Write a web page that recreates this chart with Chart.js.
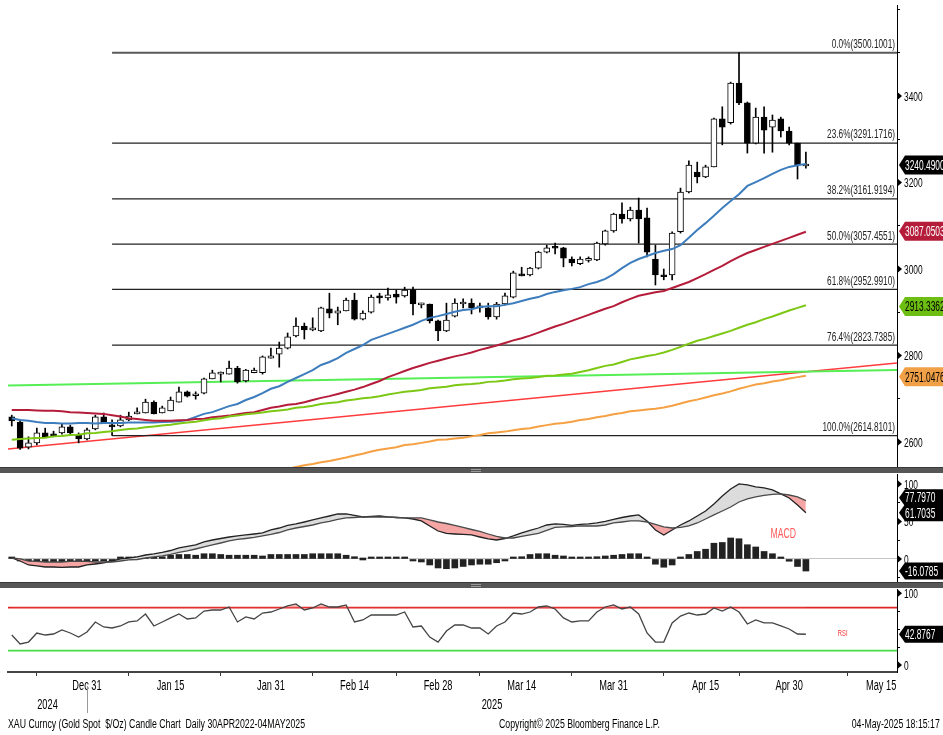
<!DOCTYPE html>
<html>
<head>
<meta charset="utf-8">
<script src="https://cdn.jsdelivr.net/npm/chart.js@4.4.1/dist/chart.umd.min.js"></script>
<style>
body{margin:0;background:#fff;width:943px;height:735px;overflow:hidden;position:relative;font-family:'Liberation Sans',Arial,sans-serif}
canvas{position:absolute;left:0}
.barra{position:absolute;left:0;width:943px;height:6px;background:#565656;border-top:1px solid #3a3a3a;box-sizing:border-box}
.barra i{position:absolute;left:471px;width:10px;height:1px;background:#9a9a9a}
.pie{position:absolute;top:717px;font-size:12.5px;color:#000;white-space:nowrap;transform:scaleX(0.7)}
</style>
</head>
<body>
<canvas id="plot1" width="943" height="468" style="top:0"></canvas>
<div class="barra" style="top:467px"><i style="top:1px"></i><i style="top:3px"></i></div>
<canvas id="plot2" width="943" height="110" style="top:473px"></canvas>
<div class="barra" style="top:582px"><i style="top:1px"></i><i style="top:3px"></i></div>
<canvas id="plot3" width="943" height="147" style="top:588px"></canvas>
<div class="pie" style="left:8px;transform-origin:left center">XAU Curncy (Gold Spot&nbsp; $/Oz) Candle Chart&nbsp; Daily 30APR2022-04MAY2025</div>
<div class="pie" style="left:499px;transform-origin:left center">Copyright© 2025 Bloomberg Finance L.P.</div>
<div class="pie" style="right:3px;transform-origin:right center">04-May-2025 18:15:17</div>
<script>
//Dias de negociacion (incluye los dias futuros del eje)
let fechas = ['Dec 17','Dec 18','Dec 19','Dec 20','Dec 23','Dec 24','Dec 26','Dec 27','Dec 30','Dec 31',
  'Jan 2','Jan 3','Jan 6','Jan 7','Jan 8','Jan 9','Jan 10','Jan 13','Jan 14','Jan 15','Jan 16','Jan 17','Jan 20','Jan 21','Jan 22','Jan 23','Jan 24','Jan 27','Jan 28','Jan 29','Jan 30','Jan 31',
  'Feb 3','Feb 4','Feb 5','Feb 6','Feb 7','Feb 10','Feb 11','Feb 12','Feb 13','Feb 14','Feb 17','Feb 18','Feb 19','Feb 20','Feb 21','Feb 24','Feb 25','Feb 26','Feb 27','Feb 28',
  'Mar 3','Mar 4','Mar 5','Mar 6','Mar 7','Mar 10','Mar 11','Mar 12','Mar 13','Mar 14','Mar 17','Mar 18','Mar 19','Mar 20','Mar 21','Mar 24','Mar 25','Mar 26','Mar 27','Mar 28','Mar 31',
  'Apr 1','Apr 2','Apr 3','Apr 4','Apr 7','Apr 8','Apr 9','Apr 10','Apr 11','Apr 14','Apr 15','Apr 16','Apr 17','Apr 21','Apr 22','Apr 23','Apr 24','Apr 25','Apr 28','Apr 29','Apr 30',
  'May 1','May 2','May 5','May 6','May 7','May 8','May 9','May 12','May 13','May 14','May 15','May 16','May 19'];

//Velas diarias
let apertura = [2658,2646,2588,2598,2621,2619,2621,2635,2616,2607,
  2630,2658,2639,2637,2651,2665,2667,2692,2667,2672,2692,2716,2707,2713,2746,2757,2757,2771,2741,2760,2760,2794,
  2803,2817,2845,2868,2859,2857,2908,2898,2903,2928,2884,2900,2938,2933,2942,2938,2951,2917,2919,2880,
  2857,2891,2919,2921,2910,2910,2889,2919,2935,2986,2986,3002,3039,3049,3049,3023,3012,3020,3021,3058,3088,
  3127,3116,3136,3118,3023,2986,2986,3086,3178,3224,3213,3236,3347,3338,3430,3384,3291,3351,3328,3347,3319,
  3291,3238];
let maximo = [2662,2651,2612,2632,2632,2625,2642,2639,2621,2632,
  2662,2667,2651,2662,2669,2679,2699,2695,2683,2704,2727,2718,2716,2748,2766,2762,2787,2775,2768,2771,2799,2817,
  2831,2852,2887,2875,2887,2912,2944,2912,2933,2944,2903,2940,2944,2956,2951,2958,2958,2921,2919,2882,
  2921,2931,2931,2931,2921,2921,2923,2944,2995,3004,3004,3041,3055,3060,3050,3028,3028,3028,3062,3090,3129,
  3153,3143,3164,3141,3055,3000,3086,3187,3250,3247,3240,3349,3375,3432,3500.1,3386,3372,3375,3356,3351,3328,
  3291,3270];
let minimo = [2637,2583,2584,2593,2610,2612,2618,2618,2598,2605,
  2628,2644,2615,2635,2649,2665,2667,2665,2667,2672,2692,2704,2699,2711,2746,2739,2757,2736,2739,2760,2757,2794,
  2773,2815,2843,2838,2857,2855,2887,2871,2903,2882,2882,2898,2921,2928,2921,2935,2894,2910,2875,2834,
  2855,2889,2910,2896,2900,2884,2884,2917,2933,2984,2984,3000,3037,3035,3005,3007,3010,3016,3019,3055,3085,
  3106,3111,3060,3028,2963,2975,2975,3083,3176,3199,3211,3236,3287,3335,3380,3268,3289,3268,3270,3305,3287,
  3208,3233];
let cierre = [2649,2586,2598,2621,2612,2614,2635,2621,2607,2628,
  2658,2644,2635,2651,2660,2668,2692,2665,2679,2697,2716,2706,2709,2746,2760,2760,2771,2739,2766,2766,2797,2799,
  2817,2843,2868,2859,2864,2910,2898,2903,2928,2884,2898,2935,2933,2940,2935,2951,2919,2919,2880,2857,
  2882,2921,2921,2910,2912,2889,2919,2938,2991,2984,3002,3039,3049,3048,3025,3014,3023,3021,3060,3088,3127,
  3116,3136,3116,3039,2986,2982,3083,3178,3240,3213,3236,3347,3328,3430,3384,3291,3351,3321,3344,3319,3291,
  3240,3240.49];

//Medias moviles
let mediaAzul = [2655,2651,2649,2646,2644,2644,2643,2643,2644,2644,
  2643,2644,2644,2644,2645,2645,2645,2645,2646,2647,2648,2651,2658,2665,2669,2676,2683,2688,2697,2704,2713,2723,
  2729,2739,2748,2757,2766,2778,2785,2794,2806,2815,2824,2836,2843,2850,2857,2864,2871,2880,2887,2891,
  2896,2901,2905,2907,2912,2914,2914,2917,2921,2926,2931,2935,2942,2947,2951,2954,2958,2965,2970,2977,2988,
  3002,3014,3023,3030,3037,3042,3046,3055,3072,3090,3106,3123,3141,3157,3173,3192,3201,3210,3220,3229,3236,
  3240,3243];
let mediaRoja = [2674,2674,2674,2673,2672,2672,2671,2669,2668,2667,
  2666,2665,2662,2659,2655,2653,2651,2649,2649,2649,2650,2651,2653,2654,2657,2659,2661,2664,2667,2669,2674,2679,
  2682,2686,2688,2692,2697,2702,2706,2711,2716,2721,2727,2734,2741,2750,2757,2764,2771,2777,2783,2788,
  2793,2798,2802,2807,2813,2818,2823,2829,2835,2840,2846,2853,2860,2867,2873,2880,2887,2894,2901,2908,2914,
  2923,2931,2938,2942,2946,2949,2956,2963,2970,2979,2988,2998,3007,3018,3028,3037,3044,3051,3058,3065,3072,
  3079,3086];
let mediaVerde = [2605,2607,2608,2609,2610,2613,2614,2616,2617,2620,
  2621,2623,2625,2628,2630,2631,2634,2636,2638,2640,2643,2645,2647,2650,2653,2655,2659,2661,2664,2666,2668,2671,
  2673,2675,2679,2681,2684,2688,2690,2692,2696,2698,2701,2703,2706,2710,2713,2716,2718,2720,2724,2726,
  2728,2731,2733,2734,2736,2739,2740,2742,2745,2747,2748,2750,2753,2754,2756,2758,2762,2766,2771,2776,2779,
  2785,2791,2795,2799,2802,2807,2813,2820,2827,2834,2839,2845,2851,2857,2864,2871,2877,2884,2890,2897,2904,
  2910,2916];
let mediaNaranja = [null,null,null,null,null,null,null,null,null,null,
  null,null,null,null,null,null,null,null,null,null,null,null,null,null,null,null,null,null,null,null,null,null,
  2533,2538,2542,2546,2549,2553,2556,2560,2564,2569,2573,2578,2582,2585,2588,2593,2595,2598,2601,2605,
  2606,2608,2610,2613,2616,2620,2622,2624,2627,2630,2632,2636,2639,2642,2644,2647,2651,2653,2657,2660,2664,
  2667,2671,2673,2675,2677,2680,2684,2689,2694,2698,2703,2708,2712,2717,2723,2728,2733,2736,2740,2743,2747,
  2750,2753];

//Lineas de tendencia (valor en el borde izquierdo y derecho)
let tendenciaVerde = [2730.6, 2766.5];
let tendenciaRoja = [2583.8, 2782.6];

//Retrocesos de Fibonacci
let inicioFib = 'Jan 6';
let porcentajesFib = ['0.0%','23.6%','38.2%','50.0%','61.8%','76.4%','100.0%'];
let nivelesFib = [3500.1001, 3291.1716, 3161.9194, 3057.4551, 2952.9910, 2823.7385, 2614.8101];

//Ultimos valores mostrados a la derecha
let ultimoCierre = 3240.49;
let ultimaRoja = 3087.0503;
let ultimaVerde = 2913.3362;
let ultimaNaranja = 2751.0476;

//MACD
let macd = [1.3,-2.7,-8,-9.3,-10.7,-10.7,-11.3,-10.7,-10.7,-8,
  -6.7,-5.3,-2.7,0,1.3,2.7,5.3,6.7,8.7,11.3,14.7,16.7,18.7,22.7,25.3,27.3,29.3,30.7,32,33.3,34.7,38.7,
  41.3,44.7,46.7,49.3,52,54.7,57.3,60,60,58,56,56.7,57.3,56,55.3,54.7,53.3,50.7,44,37.3,
  34,33.3,32.7,32,29.3,26.7,25.3,27.3,30.7,34.7,38,41.3,45.3,46.7,46,44.7,46,46.7,48,50,52.7,
  55.3,57.3,58.7,50.7,38.7,32,38.7,45.3,50.7,57.3,64,73.3,84,93.3,100,98.7,96,94.7,92,86.7,81.3,
  72,61.7035];
let senal = [1.3,0,-2.7,-3.3,-4,-4,-4,-3.3,-2.7,-3.3,
  -4,-4,-4,-2.7,-1.3,-0.7,1.3,2.7,4,6,8.7,10.7,13.3,16,18.7,21.3,24,26,27.3,28.7,30.7,32.7,
  35.3,38.7,41.3,43.3,45.3,48,50,52.7,54.7,55.3,56,56,56,56,55.3,54.7,54.7,54.7,52,49.3,
  47.3,44.7,42,39.3,36.7,33.3,30,28,28,30,32,34,38,42,42.7,43.3,44,44,44,45.3,48,
  49.3,50.7,50.7,49.3,46,42.7,41.3,42,44,48,53.3,58.7,64,69.3,76,80,82.7,84.7,86,86.7,85.3,
  82.7,77.797];
let histograma = [0.5,-1,-3,-4,-5,-5,-5,-5,-4,-3,
  -2,-1,-1,0.5,1,2,3,3,3,5,6,6,5,7,7,6,5,5,5,5,4,6,
  6,6,6,6,7,7,7,7,5,3,0,1,1,0.5,0.5,0.5,-1,-4,-8,-12,
  -13,-12,-10,-8,-7,-7,-5,-1,0.5,3,6,7,7,5,4,2,2,1,3,4,5,
  6,7,7,1,-7,-11,-8,1,6,10,13,21,22,28,27,19,16,10,7,1.5,-3,
  -10,-16.0785];

//RSI
let rsi = [41.8,29.3,32,44.6,41.8,43.2,48.8,44.6,39,46,
  60,53,51.6,54.4,60,61.4,71.1,54.4,60,65.6,71.1,64.2,65.6,75.3,76.7,76.7,80.9,60,67,64.2,72.5,73.9,
  78.1,82.3,85.1,76.7,79.5,85.1,80.9,80.9,83.7,60,62.8,69.7,69.7,69.7,69.7,73.9,53,54.4,39,32,
  47.4,55.8,55.8,51.6,51.6,43.2,54.4,60,72.5,71.1,73.9,80.9,82.3,78.1,65.6,60,61.4,61.4,73.9,80.9,83.7,
  78.1,80.9,71.1,44.6,32,32,58.6,68.3,72.5,69.7,71.1,79.5,75.3,80.9,73.9,57.2,62.8,58.6,58.6,54.4,50.2,
  43.2,42.8767];
let nivelAlto = 80;
let nivelBajo = 20;

//Eje de tiempo
let etiquetasX = ['Dec 31','Jan 15','Jan 31','Feb 14','Feb 28','Mar 14','Mar 31','Apr 15','Apr 30','May 15'];
let marcasX = ['Dec 20','Jan 8','Jan 23','Feb 7','Feb 21','Mar 7','Mar 24','Apr 8','Apr 22','May 9'];
let anios = ['2024','2025'];

const FUENTE = "'Liberation Sans',Arial,sans-serif";
const X_MIN = -0.45;
const X_MAX = 105.9;
Chart.defaults.font.family = FUENTE;
Chart.defaults.color = '#000';
Chart.defaults.animation = false;
Chart.defaults.plugins.legend.display = false;
Chart.defaults.plugins.tooltip.enabled = false;

let idx = (f) => fechas.indexOf(f);
let puntos = (serie) => serie.map((v, i) => ({x: i, y: v}));
let recta = (extremos) => [{x: X_MIN, y: extremos[0]}, {x: X_MAX, y: extremos[1]}];
let linea = (data, color, ancho, orden) => ({type: 'line', data: data, borderColor: color, borderWidth: ancho,
  pointRadius: 0, tension: 0, order: orden, fill: false});

//Texto angosto, parecido a la letra de Bloomberg
let angosto = (ctx, texto, x, y, tam, escala, alinear, color) => {
  ctx.save();
  ctx.font = tam + 'px ' + FUENTE;
  ctx.fillStyle = color;
  ctx.textAlign = alinear;
  ctx.textBaseline = 'middle';
  ctx.translate(x, y);
  ctx.scale(escala, 1);
  ctx.fillText(texto, 0, 0);
  ctx.restore();
};

let ejeXOculto = {type: 'linear', min: X_MIN, max: X_MAX, offset: false, display: false};

let ejeY = (min, max, marcas) => ({
  position: 'right', min: min, max: max,
  afterFit: s => { s.width = 46; },
  afterBuildTicks: s => { s.ticks = marcas.map(v => ({value: v})); },
  ticks: {display: false},
  grid: {drawOnChartArea: false, tickLength: 3, tickColor: '#000'},
  border: {display: true, color: '#000', width: 1}
});

//Caja con punta a la izquierda
let caja = (ctx, xr, y, texto, fondo, tinta, alto) => {
  ctx.beginPath();
  ctx.moveTo(xr + 2, y);
  ctx.lineTo(xr + 8, y - alto / 2);
  ctx.lineTo(943, y - alto / 2);
  ctx.lineTo(943, y + alto / 2);
  ctx.lineTo(xr + 8, y + alto / 2);
  ctx.closePath();
  ctx.fillStyle = fondo;
  ctx.fill();
  angosto(ctx, texto, xr + 8, y + 1, 14, 0.6, 'left', tinta);
};

//Etiquetas del eje derecho, triangulos, cajas y textos
let pluginMarcas = {
  id: 'marcas',
  afterDraw(chart, args, opciones) {
    let {ctx, chartArea, scales} = chart;
    ctx.save();
    (opciones.etiquetas || []).forEach(v => {
      let py = scales.y.getPixelForValue(v);
      ctx.fillStyle = '#000';
      ctx.beginPath();
      ctx.moveTo(chartArea.right + 1, py - 3.5);
      ctx.lineTo(chartArea.right + 5, py);
      ctx.lineTo(chartArea.right + 1, py + 3.5);
      ctx.fill();
      angosto(ctx, String(v), chartArea.right + 7, py + 1, 13.5, 0.62, 'left', '#000');
    });
    (opciones.cajas || []).forEach(c => caja(ctx, chartArea.right, scales.y.getPixelForValue(c.valor) + (c.desplazar || 0), c.valor.toFixed(4), c.fondo, c.tinta, c.alto));
    (opciones.textos || []).forEach(t => angosto(ctx, t.texto, scales.x.getPixelForValue(t.x), scales.y.getPixelForValue(t.y), t.tam, t.escala, 'center', t.color));
    ctx.restore();
  }
};

//Grafico principal: velas, medias y Fibonacci
let pluginFib = {
  id: 'fib',
  afterDatasetsDraw(chart) {
    let {ctx, chartArea, scales} = chart;
    nivelesFib.forEach((n, k) => angosto(ctx, `${porcentajesFib[k]}(${n.toFixed(4)})`, chartArea.right - 2, scales.y.getPixelForValue(n) - 8, 12.5, 0.66, 'right', '#222'));
  }
};

let indices = cierre.map((c, i) => i);
let datasetsPrecio = [];
nivelesFib.forEach((n, k) => datasetsPrecio.push(linea([{x: idx(inicioFib), y: n}, {x: X_MAX, y: n}], k === 0 ? '#5a5a5a' : '#222', k === 0 ? 2 : 1.2, 4)));
datasetsPrecio.push(linea(recta(tendenciaVerde), '#55ee55', 2, 4));
datasetsPrecio.push(linea(recta(tendenciaRoja), '#ff3b3b', 1.6, 4));
datasetsPrecio.push({type: 'bar', data: indices.map(i => ({x: i, y: [minimo[i], maximo[i]]})), backgroundColor: '#000',
  barThickness: 1, grouped: false, order: 3});
datasetsPrecio.push({type: 'bar', data: indices.map(i => ({x: i, y: [apertura[i], cierre[i]]})),
  backgroundColor: indices.map(i => cierre[i] >= apertura[i] ? '#fff' : '#000'), borderColor: '#000', borderWidth: 1,
  borderSkipped: false, barThickness: 6, minBarLength: 2, grouped: false, order: 2});
datasetsPrecio.push(linea(puntos(mediaNaranja), '#f5a043', 2, 1));
datasetsPrecio.push(linea(puntos(mediaVerde), '#7cc814', 2, 1));
datasetsPrecio.push(linea(puntos(mediaRoja), '#b41c3a', 2, 1));
datasetsPrecio.push(linea(puntos(mediaAzul), '#3d7dbd', 2, 1));

let chart1 = new Chart(document.getElementById('plot1'), {
  type: 'bar',
  data: {datasets: datasetsPrecio},
  options: {
    responsive: false,
    layout: {padding: {left: 8, top: 5, bottom: 1, right: 0}},
    scales: {x: ejeXOculto, y: ejeY(2542.2, 3610.3, [2600,2700,2800,2900,3000,3100,3200,3300,3400,3500,3600])},
    plugins: {marcas: {
      etiquetas: [2600,2800,3000,3200,3400],
      cajas: [
        {valor: ultimoCierre, fondo: '#000', tinta: '#fff', alto: 19},
        {valor: ultimaRoja, fondo: '#b41c3a', tinta: '#fff', alto: 19},
        {valor: ultimaVerde, fondo: '#6cbf12', tinta: '#000', alto: 19},
        {valor: ultimaNaranja, fondo: '#f0a046', tinta: '#000', alto: 19}
      ]
    }}
  },
  plugins: [pluginFib, pluginMarcas]
});

//Panel MACD
let ejeMacd = ejeY(-30.7, 113.3, [-25,0,25,50,75,100]);
ejeMacd.grid = {drawOnChartArea: true, color: c => c.tick && c.tick.value === 0 ? '#c4c4c4' : 'rgba(0,0,0,0)', tickLength: 3, tickColor: '#000'};
let chart2 = new Chart(document.getElementById('plot2'), {
  type: 'bar',
  data: {datasets: [
    linea(puntos(senal), '#4a4a4a', 1.3, 1),
    Object.assign(linea(puntos(macd), '#222', 1.3, 1), {fill: {target: 0, above: '#dcdcdc', below: '#f6a5a5'}}),
    {type: 'bar', data: puntos(histograma), backgroundColor: '#222', barThickness: 6, minBarLength: 2, grouped: false, order: 2}
  ]},
  options: {
    responsive: false,
    layout: {padding: {left: 8, top: 1, bottom: 1, right: 0}},
    scales: {x: ejeXOculto, y: ejeMacd},
    plugins: {marcas: {
      etiquetas: [0, 50, 100],
      cajas: [
        {valor: senal[senal.length - 1], fondo: '#000', tinta: '#fff', alto: 17, desplazar: -3},
        {valor: macd[macd.length - 1], fondo: '#000', tinta: '#fff', alto: 17},
        {valor: histograma[histograma.length - 1], fondo: '#000', tinta: '#fff', alto: 17}
      ],
      textos: [{texto: 'MACD', x: 92.3, y: 34, color: '#ff5a5a', tam: 15, escala: 0.58}]
    }}
  },
  plugins: [pluginMarcas]
});

//Panel RSI con el eje de fechas
let valoresEtiquetas = etiquetasX.map(idx);
let valoresMarcas = marcasX.map(idx);
let todasMarcas = valoresEtiquetas.concat(valoresMarcas).sort((a, b) => a - b);

let pluginFechas = {
  id: 'fechas',
  afterDraw(chart) {
    let {ctx, chartArea, scales} = chart;
    valoresEtiquetas.forEach((v, k) => angosto(ctx, etiquetasX[k], scales.x.getPixelForValue(v), chartArea.bottom + 14, 14, 0.66, 'center', '#000'));
    let corte = scales.x.getPixelForValue(idx('Dec 31'));
    ctx.save();
    ctx.strokeStyle = '#999';
    ctx.lineWidth = 1;
    ctx.beginPath();
    ctx.moveTo(Math.round(corte) + 0.5, chartArea.bottom + 14);
    ctx.lineTo(Math.round(corte) + 0.5, chartArea.bottom + 41);
    ctx.stroke();
    ctx.restore();
    angosto(ctx, anios[0], (chartArea.left + corte) / 2, chartArea.bottom + 33, 14, 0.66, 'center', '#000');
    angosto(ctx, anios[1], (corte + chartArea.right) / 2, chartArea.bottom + 33, 14, 0.66, 'center', '#000');
  }
};

let chart3 = new Chart(document.getElementById('plot3'), {
  type: 'line',
  data: {datasets: [
    Object.assign(linea(puntos(rsi), '#444', 1.3, 1), {fill: {target: {value: nivelAlto}, above: 'rgba(250,140,140,0.6)', below: 'rgba(0,0,0,0)'}}),
    linea(recta([nivelAlto, nivelAlto]), '#e02424', 1.6, 2),
    linea(recta([nivelBajo, nivelBajo]), '#47dd47', 1.6, 2)
  ]},
  options: {
    responsive: false,
    layout: {padding: {left: 8, top: 1, bottom: 0, right: 0}},
    scales: {
      x: {
        type: 'linear', min: X_MIN, max: X_MAX, offset: false,
        afterFit: s => { s.height = 63; },
        afterBuildTicks: s => { s.ticks = todasMarcas.map(v => ({value: v})); },
        ticks: {display: false},
        grid: {drawOnChartArea: false, tickLength: 4, tickColor: c => c.tick && valoresEtiquetas.includes(c.tick.value) ? 'rgba(0,0,0,0)' : '#333'},
        border: {display: true, color: '#444', width: 2}
      },
      y: ejeY(-9.8, 106, [0,25,50,75,100])
    },
    plugins: {marcas: {
      etiquetas: [0, 100],
      cajas: [{valor: rsi[rsi.length - 1], fondo: '#000', tinta: '#fff', alto: 17}],
      textos: [{texto: 'RSI', x: 99.4, y: 44, color: '#ff3333', tam: 9, escala: 0.65}]
    }}
  },
  plugins: [pluginMarcas, pluginFechas]
});
</script>
</body>
</html>
